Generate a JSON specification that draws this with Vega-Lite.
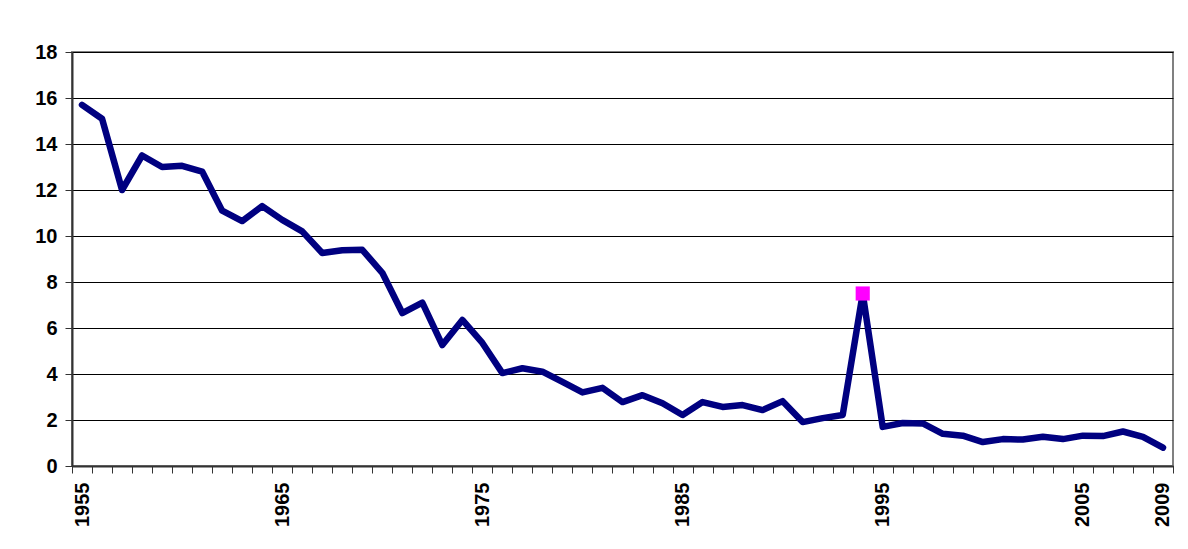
{
  "$schema": "https://vega.github.io/schema/vega-lite/v6.json",
  "width": 1101,
  "height": 414,
  "autosize": {"type": "none"},
  "padding": {"left": 72, "top": 52, "right": 15, "bottom": 83},
  "background": "white",
  "config": {
    "view": {"stroke": "#808080", "strokeWidth": 2},
    "axis": {"labelFont": "Liberation Sans", "labelFontWeight": "bold", "labelColor": "black", "labelFontSize": 20}
  },
  "data": {"values": [
    {"year": 1955, "rate": 15.7}, {"year": 1956, "rate": 15.1}, {"year": 1957, "rate": 12.0}, {"year": 1958, "rate": 13.5},
    {"year": 1959, "rate": 13.0}, {"year": 1960, "rate": 13.05}, {"year": 1961, "rate": 12.8}, {"year": 1962, "rate": 11.1},
    {"year": 1963, "rate": 10.65}, {"year": 1964, "rate": 11.3}, {"year": 1965, "rate": 10.7}, {"year": 1966, "rate": 10.2},
    {"year": 1967, "rate": 9.26}, {"year": 1968, "rate": 9.38}, {"year": 1969, "rate": 9.4}, {"year": 1970, "rate": 8.4},
    {"year": 1971, "rate": 6.65}, {"year": 1972, "rate": 7.1}, {"year": 1973, "rate": 5.26}, {"year": 1974, "rate": 6.35},
    {"year": 1975, "rate": 5.35}, {"year": 1976, "rate": 4.04}, {"year": 1977, "rate": 4.25}, {"year": 1978, "rate": 4.1},
    {"year": 1979, "rate": 3.66}, {"year": 1980, "rate": 3.2}, {"year": 1981, "rate": 3.4}, {"year": 1982, "rate": 2.78},
    {"year": 1983, "rate": 3.08}, {"year": 1984, "rate": 2.73}, {"year": 1985, "rate": 2.22}, {"year": 1986, "rate": 2.78},
    {"year": 1987, "rate": 2.57}, {"year": 1988, "rate": 2.65}, {"year": 1989, "rate": 2.43}, {"year": 1990, "rate": 2.82},
    {"year": 1991, "rate": 1.91}, {"year": 1992, "rate": 2.08}, {"year": 1993, "rate": 2.22}, {"year": 1994, "rate": 7.5},
    {"year": 1995, "rate": 1.7}, {"year": 1996, "rate": 1.87}, {"year": 1997, "rate": 1.85}, {"year": 1998, "rate": 1.4},
    {"year": 1999, "rate": 1.32}, {"year": 2000, "rate": 1.04}, {"year": 2001, "rate": 1.17}, {"year": 2002, "rate": 1.15},
    {"year": 2003, "rate": 1.27}, {"year": 2004, "rate": 1.17}, {"year": 2005, "rate": 1.32}, {"year": 2006, "rate": 1.3},
    {"year": 2007, "rate": 1.5}, {"year": 2008, "rate": 1.27}, {"year": 2009, "rate": 0.8}
  ]},
  "encoding": {
    "x": {
      "field": "year", "type": "quantitative",
      "scale": {"domain": [1954.5, 2009.5], "nice": false, "zero": false},
      "axis": {
        "title": null, "grid": false,
        "values": [1954.5,1955.5,1956.5,1957.5,1958.5,1959.5,1960.5,1961.5,1962.5,1963.5,1964.5,1965.5,1966.5,1967.5,1968.5,1969.5,1970.5,1971.5,1972.5,1973.5,1974.5,1975.5,1976.5,1977.5,1978.5,1979.5,1980.5,1981.5,1982.5,1983.5,1984.5,1985.5,1986.5,1987.5,1988.5,1989.5,1990.5,1991.5,1992.5,1993.5,1994.5,1995.5,1996.5,1997.5,1998.5,1999.5,2000.5,2001.5,2002.5,2003.5,2004.5,2005.5,2006.5,2007.5,2008.5,2009.5],
        "labelExpr": "indexof([1955,1965,1975,1985,1995,2005,2009], datum.value + 0.5) >= 0 ? toString(datum.value + 0.5) : ''",
        "labelAngle": -90, "labelOffset": 10, "labelPadding": 9, "labelOverlap": false, "labelFlush": false,
        "tickSize": 7, "tickColor": "#333333", "domainColor": "#333333", "domainWidth": 2
      }
    },
    "y": {
      "field": "rate", "type": "quantitative",
      "scale": {"domain": [0, 18], "nice": false},
      "axis": {
        "title": null, "values": [0,2,4,6,8,10,12,14,16,18],
        "grid": true, "gridColor": "#000000", "gridWidth": 1, "gridOpacity": 1,
        "tickSize": 7, "tickColor": "#333333", "domainColor": "#333333", "domainWidth": 2,
        "labelPadding": 8
      }
    }
  },
  "layer": [
    {"mark": {"type": "line", "color": "#000080", "strokeWidth": 6.5, "strokeCap": "round", "strokeJoin": "round"}},
    {"transform": [{"filter": "datum.year == 1994"}],
     "mark": {"type": "square", "color": "#FF00FF", "filled": true, "opacity": 1, "size": 200}}
  ]
}
